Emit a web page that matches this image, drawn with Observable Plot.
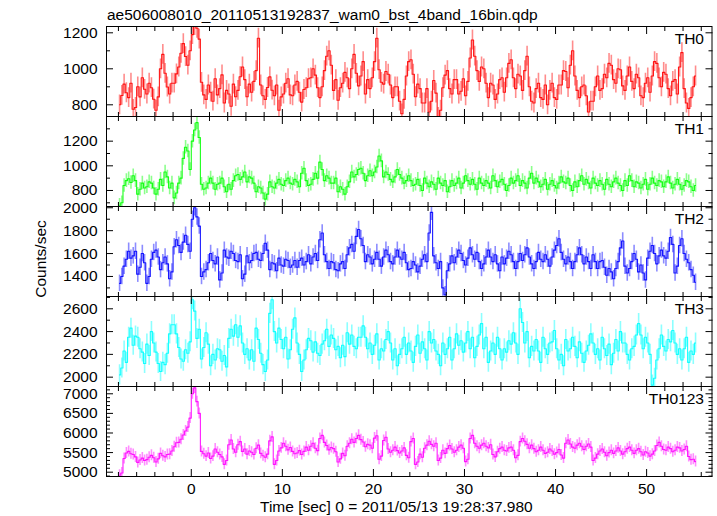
<!DOCTYPE html>
<html><head><meta charset="utf-8">
<script src="https://cdn.jsdelivr.net/npm/d3@7"></script>
<script src="https://cdn.jsdelivr.net/npm/@observablehq/plot@0.6"></script>
<style>
body{margin:0;background:#fff;}
#chart{position:relative;width:717px;height:516px;font-family:"Liberation Sans",Arial,Helvetica,sans-serif;overflow:hidden;background:#fff;}
.t{position:absolute;font-size:15.5px;line-height:1;white-space:nowrap;color:#000;}
</style></head><body>
<div id="chart"></div>
<script>
const title = "ae506008010_20110513192837_wam0_bst_4band_16bin.qdp";
const xLabel = "Time [sec] 0 = 2011/05/13 19:28:37.980";
const yLabel = "Counts/sec";
const bandNames = ["TH0", "TH1", "TH2", "TH3", "TH0123"];
const bandColors = ["#ff0000", "#00ff00", "#0000ff", "#00ffff", "#ff00ff"];
const bandErrors = [55, 55, 72, 88, 140];
const binStart = -7.875, binWidth = 0.25;

const th0 = [800,852,915,867,840,920,775,785,900,844,950,886,860,920,895,831,770,844,1000,1080,
975,899,860,920,920,972,1010,1086,1140,1068,1020,1100,1190,1240,1225,1165,925,855,830,910,
870,820,945,855,890,966,810,880,860,792,915,845,880,956,1010,940,845,915,870,930,
990,1170,910,850,830,896,955,881,850,910,770,844,860,920,945,855,850,910,930,870,
815,885,895,945,950,1000,965,895,840,900,990,1070,1100,1020,880,940,825,895,920,980,
950,890,1000,1080,975,905,960,1040,860,940,890,950,1040,1170,995,925,915,985,970,910,
840,900,900,820,750,830,960,1040,1050,970,845,915,890,810,810,890,760,820,935,865,
730,770,895,965,990,890,860,940,940,860,875,945,850,930,1060,1160,1070,990,930,1010,
1000,920,840,920,910,830,860,940,950,870,950,1030,1050,950,890,970,960,880,990,1070,
900,820,810,890,920,840,830,910,800,880,920,840,830,910,910,990,985,895,1020,1100,
960,880,840,900,910,850,760,820,820,900,960,880,890,970,950,1030,1020,940,920,1000,
995,905,880,960,1010,930,890,970,950,850,840,920,950,870,960,1040,1030,950,900,980,
970,890,850,930,940,860,1010,1090,890,810,780,840,900,960];

const th1 = [680,700,840,880,895,865,920,880,770,810,860,820,830,870,860,820,770,810,890,840,
950,910,820,860,740,780,860,900,1060,1150,1120,970,1200,1290,1350,1230,850,810,820,860,
900,860,810,850,860,900,830,790,850,810,880,920,930,890,910,950,870,910,900,860,
790,830,820,780,730,770,870,830,820,860,890,850,840,880,900,860,850,890,870,830,
940,980,880,840,850,890,940,900,1030,970,880,920,900,860,860,900,790,830,810,770,
830,870,950,910,930,970,980,940,880,920,960,920,950,990,1080,1040,910,950,930,890,
870,910,970,930,900,860,880,920,880,840,850,890,840,800,900,860,830,870,850,810,
900,860,840,880,790,830,880,840,860,900,820,860,920,880,850,890,850,810,900,860,
840,880,860,820,920,880,830,870,890,850,800,840,900,860,880,920,840,880,860,820,
900,940,860,900,870,830,850,890,810,850,880,840,820,860,910,870,860,900,840,800,
870,830,880,920,850,890,860,820,900,860,840,880,850,810,890,850,830,870,900,860,
840,800,880,840,920,880,830,870,860,820,850,890,810,850,900,860,840,880,870,830,
870,910,860,820,850,890,850,810,840,880,870,830,800,840];

const th2 = [1340,1400,1490,1550,1620,1560,1580,1620,1420,1480,1600,1520,1340,1400,1550,1610,1630,1570,1460,1520,
1570,1510,1380,1440,1660,1720,1670,1610,1700,1760,1680,1620,1900,2000,1920,1840,1400,1440,1460,1520,
1600,1540,1510,1570,1370,1430,1630,1570,1560,1620,1600,1540,1530,1590,1380,1420,1580,1520,1540,1600,
1610,1550,1540,1600,1690,1630,1460,1520,1510,1450,1560,1500,1490,1550,1540,1480,1500,1540,1480,1540,
1560,1500,1530,1590,1510,1570,1600,1540,1720,1780,1590,1530,1470,1530,1520,1460,1450,1510,1530,1470,
1590,1650,1680,1620,1750,1810,1730,1670,1530,1590,1570,1510,1550,1610,1550,1490,1570,1630,1590,1530,
1510,1570,1630,1570,1550,1610,1520,1460,1470,1530,1500,1440,1490,1550,1590,1530,1780,1960,1580,1520,
1470,1530,1300,1240,1450,1510,1580,1520,1570,1630,1600,1540,1500,1560,1650,1590,1550,1610,1530,1470,
1510,1570,1630,1570,1530,1590,1510,1450,1570,1510,1560,1620,1590,1530,1470,1530,1600,1540,1590,1650,
1570,1510,1470,1530,1610,1550,1530,1590,1550,1490,1570,1630,1670,1730,1610,1550,1510,1570,1530,1470,
1530,1590,1650,1590,1510,1570,1530,1470,1590,1530,1470,1530,1540,1480,1410,1470,1440,1380,1470,1530,
1650,1710,1490,1430,1470,1530,1600,1550,1440,1500,1430,1370,1560,1620,1670,1600,1510,1580,1630,1580,
1560,1620,1740,1680,1430,1490,1670,1730,1600,1550,1520,1460,1410,1350];

const th3 = [2020,2080,2230,2130,2350,2430,2280,2360,2350,2250,2220,2120,2290,2190,2400,2300,2220,2120,2050,2130,
2110,2210,2380,2460,2460,2380,2260,2160,2140,2240,2210,2310,2680,2580,2340,2420,2160,2260,2390,2290,
2100,2200,2150,2250,2240,2140,2190,2090,2340,2420,2360,2460,2350,2450,2300,2200,2250,2150,2240,2140,
2430,2330,2210,2110,2050,2150,2560,2680,2400,2300,2430,2330,2250,2350,2160,2240,2420,2520,2300,2200,
2050,2150,2240,2340,2320,2220,2310,2210,2190,2290,2320,2420,2270,2370,2340,2240,2270,2170,2280,2180,
2390,2290,2370,2270,2250,2350,2350,2450,2350,2250,2300,2200,2280,2380,2150,2250,2230,2330,2400,2300,
2150,2250,2100,2200,2250,2350,2200,2300,2230,2130,2270,2370,2210,2310,2250,2150,2400,2300,2330,2230,
2200,2100,2300,2200,2250,2350,2150,2250,2380,2280,2320,2220,2300,2400,2250,2350,2170,2270,2370,2470,
2250,2350,2130,2230,2300,2200,2350,2250,2150,2250,2220,2320,2290,2390,2300,2200,2600,2480,2300,2400,
2170,2270,2230,2330,2230,2130,2350,2250,2200,2300,2310,2410,2250,2150,2200,2100,2330,2230,2250,2350,
2270,2170,2310,2210,2130,2230,2280,2380,2300,2200,2250,2150,2350,2250,2190,2290,2110,2210,2330,2230,
2400,2300,2300,2200,2150,2250,2270,2370,2470,2370,2250,2350,2300,2200,1930,1990,2150,2250,2370,2270,
2230,2330,2310,2410,2300,2200,2250,2150,2250,2350,2130,2230,2200,2300];

const th0123 = [4920,4980,5350,5490,5530,5470,5450,5390,5250,5310,5360,5300,5320,5380,5430,5370,5260,5340,5480,5420,
5390,5450,5460,5540,5650,5750,5760,5840,5950,6050,6150,6380,7000,7150,6800,6500,5530,5470,5410,5490,
5350,5410,5590,5510,5450,5390,5200,5300,5700,5820,5590,5510,5700,5780,5530,5590,5460,5540,5510,5450,
5610,5690,5480,5420,5380,5460,5800,5900,5200,5300,5540,5620,5740,5660,5570,5630,5530,5470,5490,5550,
5450,5530,5640,5560,5660,5740,5610,5550,5860,5940,5760,5680,5570,5630,5600,5520,5260,5340,5480,5420,
5660,5740,5840,5760,5860,5940,5830,5770,5650,5710,5690,5610,5870,5930,5330,5410,5810,5890,5590,5510,
5560,5640,5550,5490,5540,5620,5430,5370,5780,5860,5200,5260,5460,5380,5610,5690,5790,5710,5660,5740,
5300,5360,5560,5480,5600,5680,5590,5510,5560,5640,5690,5610,5270,5330,5860,5940,5740,5660,5610,5690,
5740,5660,5620,5700,5450,5390,5520,5600,5640,5560,5540,5620,5640,5560,5370,5430,5780,5860,5790,5710,
5610,5690,5600,5520,5560,5640,5560,5480,5510,5590,5540,5460,5500,5580,5440,5360,5740,5820,5720,5640,
5610,5690,5740,5660,5580,5660,5720,5640,5300,5360,5460,5540,5590,5510,5420,5500,5560,5480,5540,5620,
5540,5460,5520,5600,5640,5560,5480,5560,5600,5520,5440,5520,5490,5410,5460,5540,5680,5760,5660,5580,
5560,5640,5600,5520,5560,5640,5620,5540,5580,5660,5400,5320,5330,5270];

const xDomain = [-9.31, 57.18];
const xMajorTicks = [0, 10, 20, 30, 40, 50];
const xMinorTicks = [-8,-6,-4,-2,2,4,6,8,12,14,16,18,22,24,26,28,32,34,36,38,42,44,46,48,52,54,56];
const yDomains = [[735, 1235], [670, 1400], [1225, 2011], [1918, 2708], [4890, 7186]];
const yMajorTicks = [[800, 1000, 1200], [800, 1000, 1200], [1400, 1600, 1800, 2000], [2000, 2200, 2400, 2600], [5000, 5500, 6000, 6500, 7000]];
const yMinorTicks = [[900, 1100], [700, 900, 1100, 1300], [1300, 1500, 1700, 1900], [2100, 2300, 2500, 2700],
  [4900,5100,5200,5300,5400,5600,5700,5800,5900,6100,6200,6300,6400,6600,6700,6800,6900,7100]];

const series = [th0, th1, th2, th3, th0123];
const chart = document.getElementById("chart");
const fmt = d => String(d);

function addText(str, css) {
  const el = document.createElement("div");
  el.className = "t";
  el.textContent = str;
  Object.assign(el.style, css);
  chart.appendChild(el);
  return el;
}

series.forEach((vals, i) => {
  const err = bandErrors[i];
  const color = bandColors[i];
  const rows = vals.map((v, k) => ({t: binStart + k * binWidth, v}));
  const last = i === series.length - 1;
  const mt = 1, mb = last ? 41 : 1;
  const marks = [
    Plot.ruleX(rows, {x: "t", y1: d => d.v - err, y2: d => d.v + err, stroke: color, strokeOpacity: 0.45, strokeWidth: 1.6, clip: true}),
    Plot.line(rows, {x: "t", y: "v", curve: "step", stroke: color, strokeOpacity: 0.9, strokeWidth: 1.1, clip: true}),
    Plot.frame({stroke: "black"}),
    Plot.axisX({anchor: "bottom", ticks: xMajorTicks, tickSize: -7, fill: "none", label: null}),
    Plot.axisX({anchor: "bottom", ticks: xMinorTicks, tickSize: -4, fill: "none", label: null}),
    Plot.axisX({anchor: "top", ticks: xMajorTicks, tickSize: -7, fill: "none", label: null}),
    Plot.axisX({anchor: "top", ticks: xMinorTicks, tickSize: -4, fill: "none", label: null}),
    Plot.axisY({anchor: "left", ticks: yMajorTicks[i], tickSize: -7, fill: "none", label: null}),
    Plot.axisY({anchor: "left", ticks: yMinorTicks[i], tickSize: -4, fill: "none", label: null}),
    Plot.axisY({anchor: "right", ticks: yMajorTicks[i], tickSize: -7, fill: "none", label: null}),
    Plot.axisY({anchor: "right", ticks: yMinorTicks[i], tickSize: -4, fill: "none", label: null}),
    Plot.axisY({anchor: "left", ticks: yMajorTicks[i], tickSize: 0, tickPadding: 9, tickFormat: fmt, label: null}),
    Plot.text([bandNames[i]], {text: d => d, frameAnchor: "top-right", textAnchor: "end", lineAnchor: "top", dx: -8, dy: 6, fontSize: 15.5, fill: "black"})
  ];
  if (last) marks.push(Plot.axisX({anchor: "bottom", ticks: xMajorTicks, tickSize: 0, tickPadding: 6.5, tickFormat: fmt, label: null}));
  const plot = Plot.plot({
    width: 717, height: 90 + mt + mb,
    marginLeft: 106, marginRight: 5.5, marginTop: mt, marginBottom: mb,
    x: {domain: xDomain}, y: {domain: yDomains[i]},
    style: {fontSize: "15.5px", fontFamily: '"Liberation Sans", Arial, Helvetica, sans-serif', overflow: "visible", background: "none", color: "black"},
    marks
  });
  plot.style.position = "absolute";
  plot.style.left = "0px";
  plot.style.top = (25 + 90 * i) + "px";
  chart.appendChild(plot);
});

addText(title, {left: "107px", top: "7px"});
addText(xLabel, {left: "260px", top: "499px"});
addText(yLabel, {left: "41px", top: "259px", transform: "translate(-50%, -50%) rotate(-90deg)"});
</script>
</body></html>
